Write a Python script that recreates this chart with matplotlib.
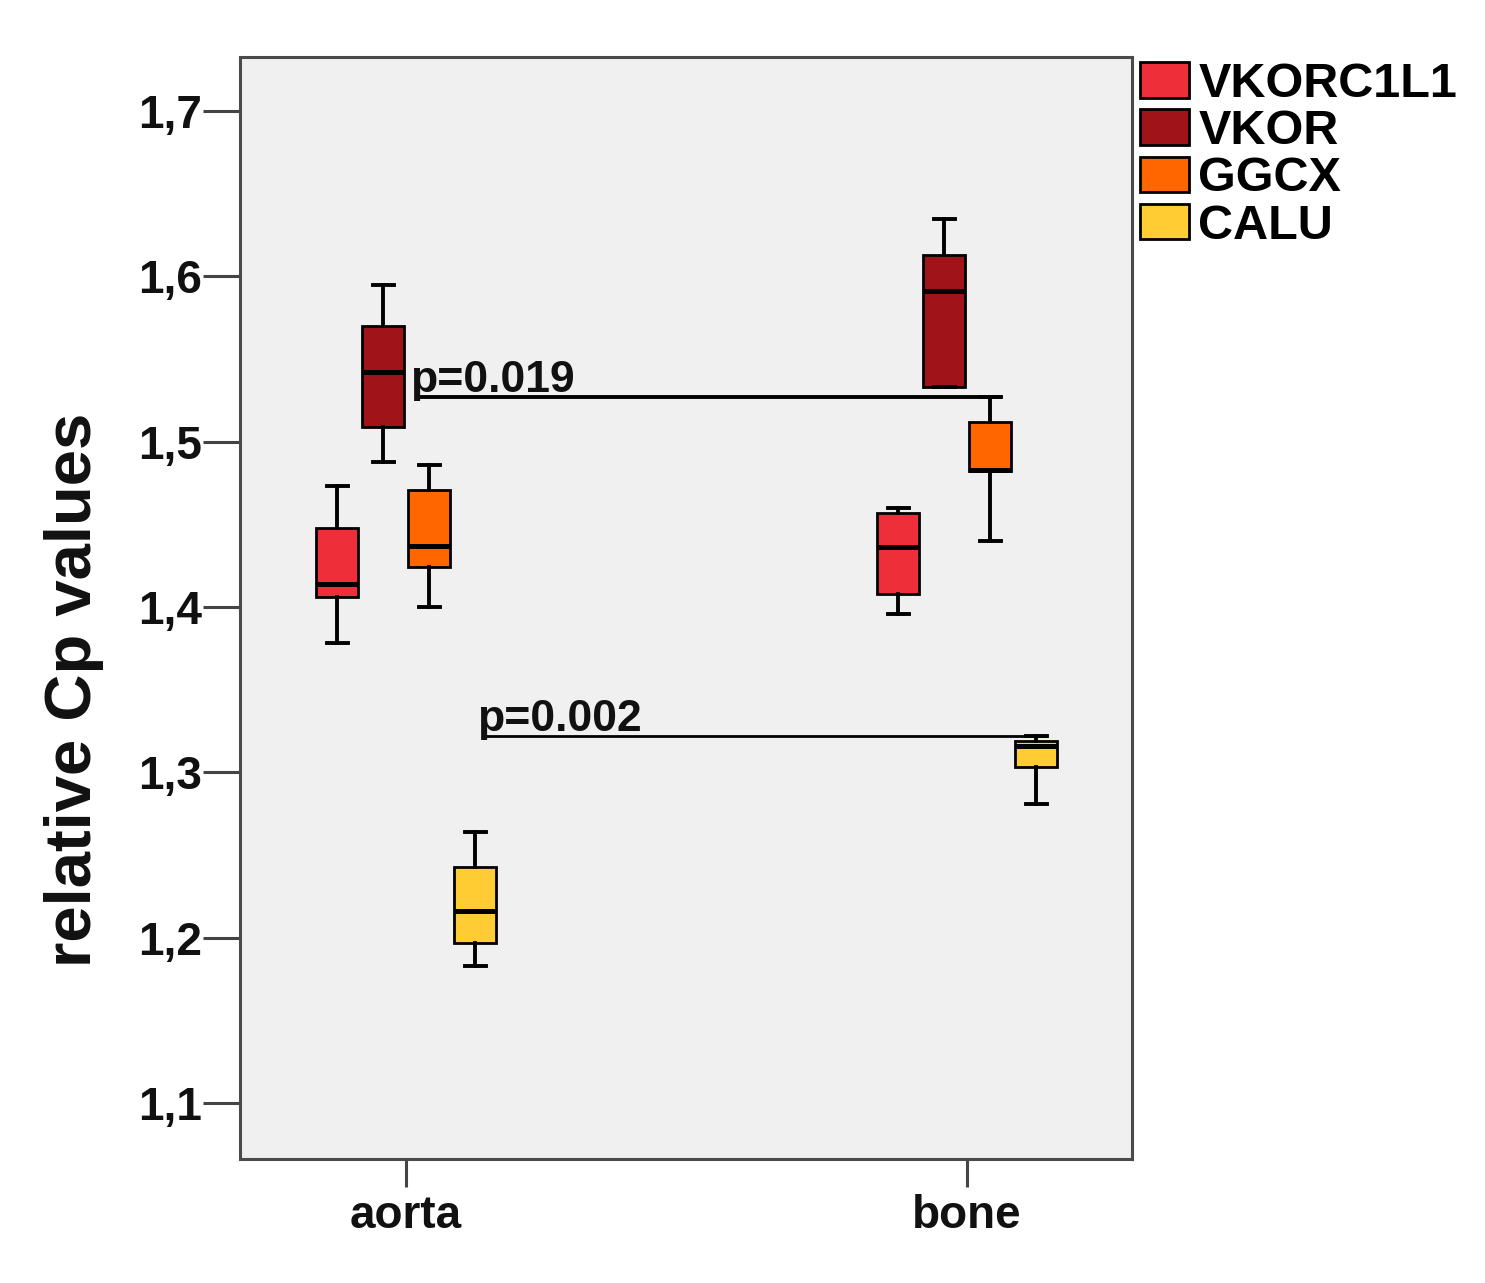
import matplotlib
matplotlib.use('Agg')
import matplotlib.pyplot as plt
from matplotlib.patches import Patch

# ---- data ----
tissues = ['aorta', 'bone']
genes = ['VKORC1L1', 'VKOR', 'GGCX', 'CALU']
colors = ['#EE2F3A', '#A01419', '#FF6600', '#FFCC33']

# each entry: [whisker low, Q1, median, Q3, whisker high]
vkorc1l1_aorta = [1.378, 1.406, 1.414, 1.448, 1.473]
vkorc1l1_bone = [1.396, 1.408, 1.436, 1.457, 1.460]
vkor_aorta = [1.488, 1.509, 1.542, 1.570, 1.595]
vkor_bone = [1.533, 1.533, 1.591, 1.613, 1.635]
ggcx_aorta = [1.400, 1.424, 1.437, 1.471, 1.486]
ggcx_bone = [1.440, 1.482, 1.483, 1.512, 1.527]
calu_aorta = [1.183, 1.197, 1.216, 1.243, 1.264]
calu_bone = [1.281, 1.303, 1.316, 1.319, 1.322]

box_data = {
    'VKORC1L1': [vkorc1l1_aorta, vkorc1l1_bone],
    'VKOR': [vkor_aorta, vkor_bone],
    'GGCX': [ggcx_aorta, ggcx_bone],
    'CALU': [calu_aorta, calu_bone],
}

ytick_values = [1.1, 1.2, 1.3, 1.4, 1.5, 1.6, 1.7]
ytick_labels = ['1,1', '1,2', '1,3', '1,4', '1,5', '1,6', '1,7']
ylabel = 'relative Cp values'
p_labels = ['p=0.019', 'p=0.002']

# ---- styling ----
FONT = 'Liberation Sans'
plt.rcParams['font.family'] = [FONT, 'DejaVu Sans']

W, H = 1485, 1283
fig = plt.figure(figsize=(W / 100, H / 100), dpi=100)
ax = fig.add_axes([240 / W, (H - 1159) / H, 892 / W, 1102 / H])
ax.set_facecolor('#F0F0F0')

offsets = [-0.123, -0.041, 0.041, 0.123]
width = 0.075

for gi, gene in enumerate(genes):
    stats = []
    for ti in range(len(tissues)):
        s = box_data[gene][ti]
        stats.append(dict(whislo=s[0], q1=s[1], med=s[2], q3=s[3],
                          whishi=s[4], fliers=[]))
    ax.bxp(stats, positions=[ti + offsets[gi] for ti in range(len(tissues))],
           widths=width, patch_artist=True, showfliers=False,
           manage_ticks=False, capwidths=width / 2,
           boxprops=dict(facecolor=colors[gi], edgecolor='black', linewidth=2.0),
           medianprops=dict(color='black', linewidth=3.6),
           whiskerprops=dict(color='black', linewidth=2.8),
           capprops=dict(color='black', linewidth=2.8))

ax.set_xlim(-0.296, 1.294)
ax.set_ylim(1.0661, 1.7327)
ax.set_xticks(range(len(tissues)))
ax.set_xticklabels(tissues)
ax.set_yticks(ytick_values)
ax.set_yticklabels(ytick_labels)

for lab in ax.get_xticklabels() + ax.get_yticklabels():
    lab.set_fontweight('bold')
    lab.set_fontsize(33)
    lab.set_color('#111111')

ax.tick_params(axis='y', length=26.6, width=2.2, color='#444444', pad=1)
ax.tick_params(axis='x', length=20, width=2.2, color='#444444', pad=5)
for sp in ax.spines.values():
    sp.set_color('#4a4a4a')
    sp.set_linewidth(2.2)

ax.set_ylabel(ylabel, fontsize=47, fontweight='bold', color='#111111')
ax.yaxis.label.set_rotation_mode('default')
ax.yaxis.label.set_verticalalignment('center')
ax.yaxis.label.set_horizontalalignment('center')
ax.yaxis.set_label_coords(-0.186, 0.4256)

# ---- significance lines ----
# VKOR aorta vs bone: line at height of bone GGCX upper whisker
y1 = ggcx_bone[4]
x1_start = 0 + offsets[1] + width / 2 + 0.025
x1_end = 1 + offsets[2] + width / 4
ax.plot([x1_start, x1_end], [y1, y1], color='black', lw=2.8, solid_capstyle='butt')
ax.text(x1_start - 0.015, y1 + 0.003, p_labels[0], fontsize=32,
        fontweight='bold', ha='left', va='baseline', color='#111111')

# CALU aorta vs bone: line at height of bone CALU upper whisker
y2 = calu_bone[4]
x2_start = 0 + offsets[3] + width / 4
x2_end = 1 + offsets[3] + width / 4
ax.plot([x2_start, x2_end], [y2, y2], color='black', lw=2.0, solid_capstyle='butt')
ax.text(x2_start - 0.016, y2 + 0.003, p_labels[1], fontsize=32,
        fontweight='bold', ha='left', va='baseline', color='#111111')

# ---- legend ----
handles = [Patch(facecolor=c, edgecolor='black', linewidth=2.0) for c in colors]
leg = fig.legend(handles, genes, loc='upper left',
                 bbox_to_anchor=(1140 / W, 1 - 62 / H),
                 frameon=False, borderpad=0, borderaxespad=0,
                 handlelength=1.0, handleheight=0.75, handletextpad=0.2,
                 labelspacing=0.045,
                 prop=dict(family=FONT, weight='bold', size=35))

fig.savefig('out.png', dpi=100)
